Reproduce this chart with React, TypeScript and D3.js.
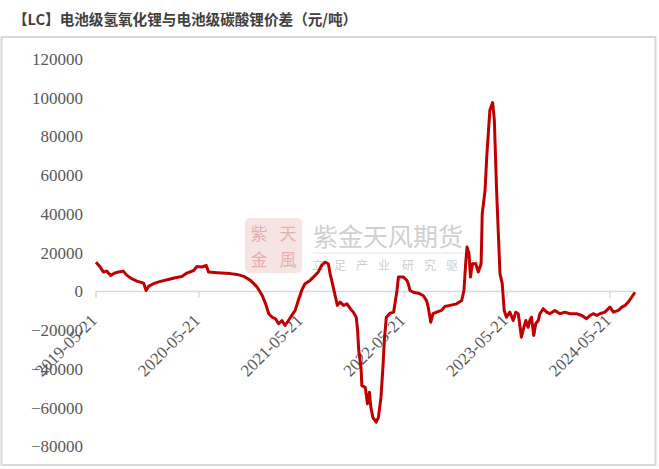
import React from "react";
import * as d3 from "d3";

const TITLE = "【LC】电池级氢氧化锂与电池级碳酸锂价差（元/吨）";

const dates: string[] = [
  "2019-05-21","2019-06-05","2019-06-16","2019-06-28","2019-07-12","2019-07-27","2019-08-09","2019-08-26",
  "2019-09-08","2019-09-25","2019-10-13","2019-11-06","2019-11-15","2019-11-24","2019-12-11","2020-01-05",
  "2020-01-29","2020-02-27","2020-03-21","2020-04-08","2020-05-02","2020-05-14","2020-05-31","2020-06-16",
  "2020-06-24","2020-07-24","2020-09-10","2020-10-03","2020-10-27","2020-11-20","2020-12-08","2020-12-14",
  "2021-01-01","2021-01-13","2021-01-24","2021-02-05","2021-02-17","2021-02-28","2021-03-12","2021-03-23",
  "2021-04-04","2021-04-16","2021-04-28","2021-05-09","2021-05-21","2021-06-02","2021-06-20","2021-07-08",
  "2021-07-19","2021-07-31","2021-08-12","2021-08-24","2021-08-30","2021-09-09","2021-09-17","2021-09-25",
  "2021-10-05","2021-10-17","2021-10-29","2021-11-10","2021-11-21","2021-12-01","2021-12-06","2021-12-10",
  "2021-12-18","2021-12-21","2022-01-02","2022-01-10","2022-01-17","2022-01-22","2022-01-29","2022-02-10",
  "2022-02-18","2022-02-27","2022-03-06","2022-03-11","2022-03-18","2022-04-01","2022-04-13","2022-04-25",
  "2022-04-30","2022-05-18","2022-05-30","2022-06-04","2022-06-10","2022-06-22","2022-07-10","2022-07-27",
  "2022-08-08","2022-08-14","2022-08-23","2022-08-31","2022-09-13","2022-09-30","2022-10-12","2022-10-30",
  "2022-11-23","2022-12-11","2022-12-19","2022-12-25","2022-12-30","2023-01-06","2023-01-11","2023-01-18",
  "2023-01-30","2023-02-08","2023-02-18","2023-02-22","2023-03-04","2023-03-10","2023-03-21","2023-03-31",
  "2023-04-06","2023-04-14","2023-04-26","2023-05-04","2023-05-11","2023-05-19","2023-05-31","2023-06-12",
  "2023-06-21","2023-06-30","2023-07-05","2023-07-11","2023-07-20","2023-07-27","2023-08-04","2023-08-10",
  "2023-08-16","2023-08-24","2023-08-31","2023-09-09","2023-09-15","2023-09-27","2023-10-09","2023-10-20",
  "2023-11-07","2023-11-25","2023-12-13","2023-12-31","2024-01-24","2024-02-11","2024-02-28","2024-03-11",
  "2024-03-22","2024-04-04","2024-04-15","2024-05-03","2024-05-21","2024-06-02","2024-06-20","2024-07-02",
  "2024-07-14","2024-07-25","2024-08-06","2024-08-18"
];

const values: number[] = [
  15100,12600,10000,10500,8300,9500,10000,10500,
  8300,6600,5300,4300,500,2600,4000,5200,
  6000,7100,7700,9500,10800,12900,12600,13400,
  10000,9700,9200,8800,7800,5700,3100,2200,
  -2100,-6400,-11500,-13300,-14100,-16700,-15000,-17600,
  -15000,-12400,-9800,-4700,500,4000,5700,8300,
  10000,13400,15100,14300,9200,3100,-2100,-7200,
  -5500,-7200,-6400,-8900,-10700,-13300,-20200,-30500,
  -39100,-48600,-49500,-58000,-52000,-59800,-65000,-67500,
  -65000,-54600,-39100,-25300,-13300,-11200,-10700,500,
  7400,7400,5700,4000,500,-400,-900,-2100,
  -4700,-8100,-15900,-11500,-10700,-9800,-7800,-7200,
  -6400,-4700,500,14300,22900,19500,7400,14300,
  14300,10000,14300,40200,52200,69400,93500,97500,
  88400,52200,9200,4000,-9800,-13300,-10700,-15000,
  -10700,-11500,-16700,-23600,-18500,-15000,-18500,-15000,
  -13300,-22700,-16700,-15000,-11500,-8900,-10700,-11500,
  -9800,-11500,-10700,-11500,-11500,-12400,-14100,-12400,
  -11500,-12400,-11500,-10700,-8100,-10700,-9800,-8100,
  -7200,-5500,-3000,-400
];

const xTickLabels: string[] = ["2019-05-21","2020-05-21","2021-05-21","2022-05-21","2023-05-21","2024-05-21"];
const yTicks: number[] = [-80000,-60000,-40000,-20000,0,20000,40000,60000,80000,100000,120000];

const W = 659, H = 469;
const parse = d3.timeParse("%Y-%m-%d");

export default function App() {
  const pts = dates.map((d, i) => ({ d: parse(d) as Date, v: values[i] }));
  const x = d3.scaleTime()
    .domain([parse("2019-05-21") as Date, parse("2024-08-18") as Date])
    .range([96, 635]);
  const y = d3.scaleLinear().domain([-80000, 120000]).range([446.4, 59]);
  const line = d3.line<{ d: Date; v: number }>().x(p => x(p.d)).y(p => y(p.v));
  const y0 = y(0);
  const fmt = (v: number) => (v < 0 ? "\u2212" + Math.abs(v) : String(v));
  const serif = "'Liberation Serif', 'Times New Roman', serif";
  const cjk = "'Noto Sans CJK SC', sans-serif";

  return (
    <svg width={W} height={H} style={{ position: "absolute", left: 0, top: 0, background: "#fff" }}>
      <rect x={0} y={0} width={W} height={H} fill="#fff" />
      <text x={13} y={25} fontFamily={cjk} fontWeight="bold" fontSize={14.6} fill="#404040">{TITLE}</text>
      <rect x={1.5} y={37} width={654} height={428} fill="none" stroke="#d9d9d9" strokeWidth={2} />

      {/* watermark */}
      <g>
        <rect x={245} y={218} width={57} height={55} rx={5} fill="#f6e4e4" />
        <text x={259} y={240} textAnchor="middle" fontFamily={cjk} fontSize={17} fill="#e7b0b0">紫</text>
        <text x={288} y={240} textAnchor="middle" fontFamily={cjk} fontSize={17} fill="#e7b0b0">天</text>
        <text x={259} y={266} textAnchor="middle" fontFamily={cjk} fontSize={17} fill="#e7b0b0">金</text>
        <text x={288} y={266} textAnchor="middle" fontFamily={cjk} fontSize={17} fill="#e7b0b0">風</text>
        <text x={313} y={246} fontFamily={cjk} fontSize={25} fill="#d0d0d0">紫金天风期货</text>
        <line x1={313} x2={470} y1={253} y2={253} stroke="#ececec" strokeWidth={1.5} />
        <text x={312} y={270} fontFamily={cjk} fontSize={12} letterSpacing={10} fill="#d0d0d0">立足产业</text>
        <text x={402} y={270} fontFamily={cjk} fontSize={12} letterSpacing={10} fill="#d0d0d0">研究驱动</text>
      </g>

      {yTicks.map(t => (
        <text key={t} x={83} y={y(t)} dy="0.35em" textAnchor="end" fontFamily={serif} fontSize={17} fill="#595959">{fmt(t)}</text>
      ))}

      <line x1={96} x2={635} y1={y0} y2={y0} stroke="#d9d9d9" strokeWidth={1.5} />
      {xTickLabels.map(t => {
        const tx = x(parse(t) as Date);
        return (
          <g key={t}>
            <line x1={tx} x2={tx} y1={y0} y2={y0 + 6} stroke="#d9d9d9" strokeWidth={1.5} />
            <text transform={`translate(${tx + 2},${y0 + 30}) rotate(-45)`} textAnchor="end" fontFamily={serif} fontSize={17} fill="#595959">{t}</text>
          </g>
        );
      })}

      <path d={line(pts) || ""} fill="none" stroke="#c00000" strokeWidth={3} strokeLinejoin="round" />
    </svg>
  );
}
